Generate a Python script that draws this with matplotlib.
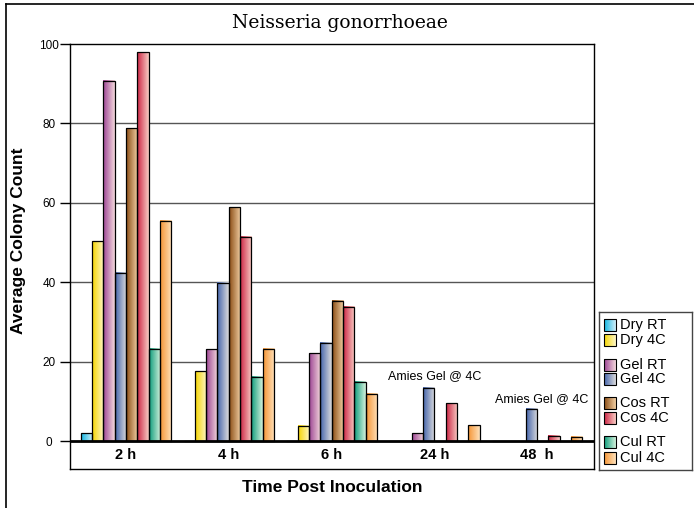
import numpy as np
import matplotlib
matplotlib.use("Agg")
import matplotlib.pyplot as plt
from matplotlib.colors import LinearSegmentedColormap, to_rgb

plt.rcParams['font.family'] = ['Liberation Sans', 'DejaVu Sans']

times = ['2 h', '4 h', '6 h', '24 h', '48  h']
series = ['Dry RT', 'Dry 4C', 'Gel RT', 'Gel 4C', 'Cos RT', 'Cos 4C', 'Cul RT', 'Cul 4C']

# average colony counts per series, one value per time point
dry_rt = [2.0, 0, 0, 0, 0]
dry_4c = [50.3, 17.6, 3.8, 0, 0]
gel_rt = [90.8, 23.1, 22.1, 2.0, 0]
gel_4c = [42.4, 39.8, 24.7, 13.4, 8.1]
cos_rt = [78.8, 58.9, 35.3, 0, 0]
cos_4c = [97.9, 51.4, 33.8, 9.5, 1.3]
cul_rt = [23.3, 16.2, 15.0, 0, 0]
cul_4c = [55.4, 23.3, 12.0, 4.0, 1.1]
values = [dry_rt, dry_4c, gel_rt, gel_4c, cos_rt, cos_4c, cul_rt, cul_4c]

# left (dark) and right (light) colours of each bar's gradient
grad = [('#12b4e0', '#d2f0fa'), ('#f4d400', '#fff8c8'),
        ('#9c4494', '#f4d8dc'), ('#4464ac', '#dcdcdc'),
        ('#8a4c14', '#f2d0a4'), ('#cc2444', '#f8ccc4'),
        ('#0e9c7c', '#d4f2dc'), ('#f49434', '#ffe2bc')]

W, H = 694, 508
fig = plt.figure(figsize=(W / 100, H / 100), dpi=100)
ax = fig.add_axes([70 / W, 39 / H, 524 / W, 425 / H])


def cmap_for(c0, c1):
    return LinearSegmentedColormap.from_list('g', [to_rgb(c0), to_rgb(c1)])


ramp = np.linspace(0, 1, 64).reshape(1, -1)
bw = 0.11
x = np.arange(len(times))
for i, (vals, (c0, c1)) in enumerate(zip(values, grad)):
    cm = cmap_for(c0, c1)
    for k, v in zip(x, vals):
        if v <= 0:
            continue
        x0 = k + (i - 4) * bw
        ax.imshow(ramp, cmap=cm, extent=[x0, x0 + bw, 0, v], aspect='auto',
                  interpolation='bilinear', zorder=3)
    ax.bar(x + (i - 3.5) * bw, vals, width=bw, fill=False,
           edgecolor='black', linewidth=0.9, zorder=4)

ax.set_xlim(-0.545, 4.553)
ax.set_ylim(-7, 100)
ax.set_yticks([0, 20, 40, 60, 80, 100])
ax.tick_params(axis='y', direction='out', length=7, width=1, labelsize=8.5, pad=8)
for lbl in ax.get_yticklabels():
    lbl.set_horizontalalignment('center')
ax.set_xticks([])
for k, t in zip(x, times):
    ax.text(k, -3.5, t, ha='center', va='center', fontsize=10.5, fontweight='bold')

for g in [20, 40, 60, 80]:
    ax.axhline(g, color='#555555', linewidth=1, zorder=1)
ax.axhline(0, color='black', linewidth=2, zorder=5)
for s in ax.spines.values():
    s.set_linewidth(1)

ax.text(3.0, 16.4, 'Amies Gel @ 4C', ha='center', va='center', fontsize=9)
ax.text(4.04, 10.7, 'Amies Gel @ 4C', ha='center', va='center', fontsize=9)

ax.set_ylabel('Average Colony Count', fontsize=12.5, fontweight='bold')
ax.yaxis.set_label_coords(-44 / 524, 0.536)
fig.text(332 / W, 1 - 487 / H, 'Time Post Inoculation', ha='center', va='center',
         fontsize=12.5, fontweight='bold')
fig.text(340 / W, 1 - 23 / H, 'Neisseria gonorrhoeae', ha='center', va='center',
         fontsize=13.5, family='DejaVu Serif')

# outer frame (left and top edges)
fig.add_artist(plt.Line2D([5.5 / W, 5.5 / W], [0, 1 - 4 / H], color='black', linewidth=1.2))
fig.add_artist(plt.Line2D([5.5 / W, 1], [1 - 4 / H, 1 - 4 / H], color='black', linewidth=1.2))

# legend box drawn by hand so the swatches can carry the gradient
lg = fig.add_axes([599 / W, 38 / H, 93 / W, 158 / H])
lg.set_xticks([])
lg.set_yticks([])
for s in lg.spines.values():
    s.set_color('#444444')
    s.set_linewidth(1)
rows = [13, 28, 53, 67, 91, 106, 130, 146]
for (c0, c1), name, yc in zip(grad, series, rows):
    lg.imshow(ramp, cmap=cmap_for(c0, c1), extent=[5, 17, yc + 6, yc - 6],
              aspect='auto', interpolation='bilinear')
    lg.add_patch(plt.Rectangle((5, yc - 6), 12, 12, fill=False, edgecolor='black', linewidth=0.8))
    lg.text(21, yc, name, va='center', ha='left', fontsize=10.5)
lg.set_xlim(0, 93)
lg.set_ylim(158, 0)

fig.savefig('out.png', dpi=100)
